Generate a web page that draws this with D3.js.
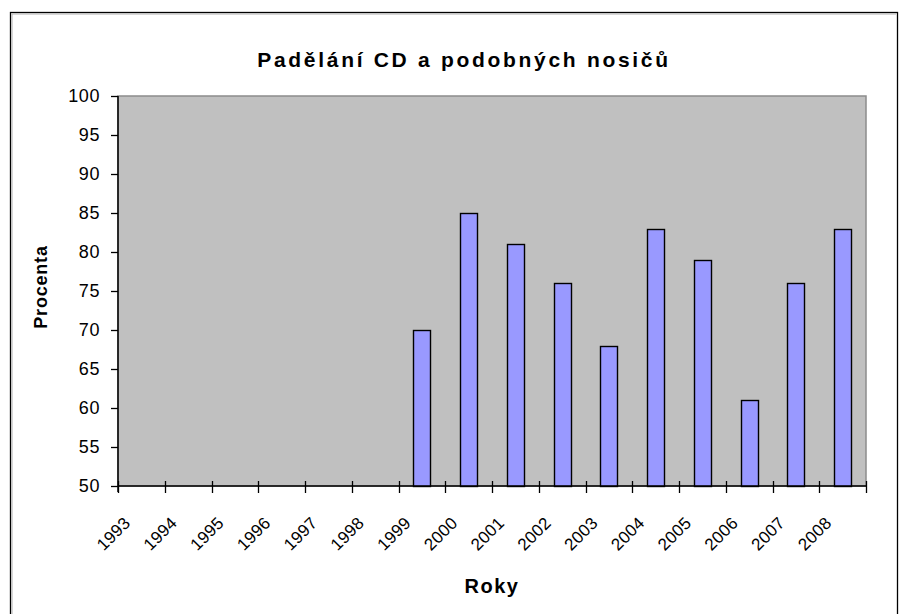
<!DOCTYPE html>
<html>
<head>
<meta charset="utf-8">
<script src="https://cdn.jsdelivr.net/npm/d3@7"></script>
<style>
  html, body { margin: 0; padding: 0; background: #ffffff; }
  svg { display: block; }
  text { font-family: "Liberation Sans", Arial, sans-serif; fill: #000; }
</style>
</head>
<body>
<svg id="chart" width="909" height="614"></svg>
<script>
const title = "Padělání CD a podobných nosičů";
const xTitle = "Roky";
const yTitle = "Procenta";
const years = ["1993","1994","1995","1996","1997","1998","1999","2000","2001","2002","2003","2004","2005","2006","2007","2008"];
const values = [null,null,null,null,null,null,70,85,81,76,68,83,79,61,76,83];
const yTicks = [50,55,60,65,70,75,80,85,90,95,100];

const svg = d3.select("#chart");
const pLeft = 118, pRight = 866, pTop = 96, pBottom = 486;

// outer frame
svg.append("rect").attr("x", 10.5).attr("y", 12.5).attr("width", 887).attr("height", 640)
  .attr("fill", "#fff").attr("stroke", "#000").attr("stroke-width", 1.3);
svg.append("path").attr("d", "M12,654V14H896").attr("fill", "none")
  .attr("stroke", "#b0b0b0").attr("stroke-width", 1);

const gap = 1.75 / 2.75;
const x = d3.scaleBand().domain(years).range([pLeft, pRight]).paddingInner(gap).paddingOuter(gap / 2);
const y = d3.scaleLinear().domain([50, 100]).range([pBottom, pTop]);

// plot area
svg.append("rect").attr("x", pLeft).attr("y", pTop).attr("width", pRight - pLeft).attr("height", pBottom - pTop)
  .attr("fill", "#C0C0C0").attr("stroke", "#8c8c8c").attr("stroke-width", 1.5);

// bars
svg.append("g").selectAll("rect")
  .data(years.map((d, i) => ({year: d, value: values[i]})).filter(d => d.value != null))
  .join("rect")
  .attr("x", d => Math.round(x(d.year)) + 0.5)
  .attr("y", d => Math.round(y(d.value)) + 0.5)
  .attr("width", x.bandwidth())
  .attr("height", d => y(50) - Math.round(y(d.value)))
  .attr("fill", "#9999FF").attr("stroke", "#000").attr("stroke-width", 1.4);

// y axis
const yAxis = svg.append("g").attr("transform", `translate(${pLeft},0)`)
  .call(d3.axisLeft(y).tickValues(yTicks).tickSize(7).tickPadding(12).tickSizeOuter(0));
yAxis.select(".domain").remove();
yAxis.selectAll("line").attr("stroke", "#000").attr("stroke-width", 1.3);
yAxis.selectAll("text").attr("font-size", 18).attr("letter-spacing", 0.6).attr("dx", 1);
svg.append("line").attr("x1", pLeft).attr("x2", pLeft).attr("y1", pTop).attr("y2", pBottom + 6)
  .attr("stroke", "#000").attr("stroke-width", 1.5);

// x axis
svg.append("line").attr("x1", pLeft).attr("x2", pRight).attr("y1", pBottom).attr("y2", pBottom)
  .attr("stroke", "#000").attr("stroke-width", 1.5);
const edges = years.map(d => x(d) + x.bandwidth() / 2 - x.step() / 2);
edges.push(x(years[years.length - 1]) + x.bandwidth() / 2 + x.step() / 2);
svg.append("g").selectAll("line").data(edges).join("line")
  .attr("x1", d => Math.round(d) + 0.5).attr("x2", d => Math.round(d) + 0.5)
  .attr("y1", pBottom - 5).attr("y2", pBottom + 7)
  .attr("stroke", "#000").attr("stroke-width", 1.3);

svg.append("g").selectAll("text").data(years).join("text")
  .attr("transform", d => `translate(${x(d) + x.bandwidth() / 2 - 10},${pBottom + 38}) rotate(-45)`)
  .attr("text-anchor", "end")
  .attr("font-size", 17).attr("letter-spacing", 0.3)
  .text(d => d);

// titles
svg.append("text").attr("x", 464).attr("y", 67).attr("text-anchor", "middle")
  .attr("font-size", 21).attr("font-weight", "bold").attr("letter-spacing", 2.7)
  .text(title);
svg.append("text").attr("x", (pLeft + pRight) / 2).attr("y", 593).attr("text-anchor", "middle")
  .attr("font-size", 20).attr("font-weight", "bold").attr("letter-spacing", 1.5)
  .text(xTitle);
svg.append("text").attr("transform", `translate(47,${(pTop + pBottom) / 2 - 4}) rotate(-90)`)
  .attr("text-anchor", "middle")
  .attr("font-size", 18).attr("font-weight", "bold").attr("letter-spacing", 0.8)
  .text(yTitle);
</script>
</body>
</html>
